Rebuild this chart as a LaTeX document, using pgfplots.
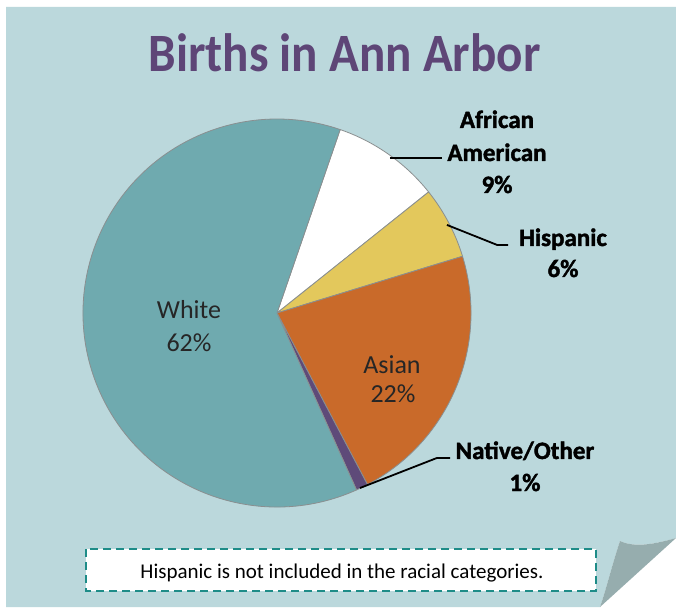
\documentclass[border=0pt]{standalone}
\usepackage{graphicx}
\usepackage{pgfplots}
\usepackage{pgfplotstable}
\pgfplotsset{compat=1.18}
\usepackage{fontspec}
\setmainfont{Carlito}
\newfontfamily\heavyfont[FakeBold=1.6]{Carlito Bold}
\definecolor{panel}{HTML}{BBD8DC}
\definecolor{cWH}{HTML}{6FAAAF}
\definecolor{cAA}{HTML}{FFFFFF}
\definecolor{cHI}{HTML}{E3C85C}
\definecolor{cAS}{HTML}{C96A2A}
\definecolor{cNA}{HTML}{5E4A79}
\definecolor{titlecol}{HTML}{5E4677}
\definecolor{pieedge}{HTML}{8A8F90}
\definecolor{curlcol}{HTML}{96ADAE}
\definecolor{dashcol}{HTML}{1E8C88}

\pgfplotstableread{
name value col
AfricanAmerican 9 cAA
Hispanic 6 cHI
Asian 22 cAS
NativeOther 1 cNA
White 62 cWH
}\piedata

\begin{document}
\begin{tikzpicture}[x=1pt,y=1pt]
\path[use as bounding box] (0,0) rectangle (676,610);
\fill[white] (0,0) rectangle (676,610);
% panel with page curl
\fill[panel] (6,603) -- (676,603) -- (676,72)
  .. controls (655,66) and (635,62) .. (620,69)
  .. controls (612,45) and (606,20) .. (600,3) -- (6,3) -- cycle;
\fill[curlcol] (620,69) .. controls (635,62) and (655,66) .. (676,72)
  -- (600,3) .. controls (606,20) and (612,45) .. (620,69) -- cycle;

\begin{axis}[
  at={(277pt,297pt)}, anchor=origin,
  scale only axis, width=388pt, height=388pt,
  xmin=-1, xmax=1, ymin=-1, ymax=1,
  hide axis, clip=false]
\pgfplotstablegetrowsof{\piedata}
\pgfmathtruncatemacro\N{\pgfplotsretval-1}
\xdef\angA{71}
\pgfplotsforeachungrouped \i in {0,...,\N}{%
  \pgfplotstablegetelem{\i}{value}\of\piedata \let\v\pgfplotsretval
  \pgfplotstablegetelem{\i}{col}\of\piedata \let\c\pgfplotsretval
  \pgfmathsetmacro\angB{\angA-3.6*\v}%
  \edef\temp{\noexpand\fill[\c, draw=pieedge, line width=0.8pt, line join=round]
    (axis cs:0,0) -- (axis cs:{cos(\angA)},{sin(\angA)})
    arc[start angle=\angA, end angle=\angB, radius=194pt] -- cycle;}%
  \temp
  \xdef\angA{\angB}%
}
% leader lines
\draw[black, line width=2.2pt] (axis cs:0.582,0.799) -- (axis cs:0.851,0.799);
\draw[black, line width=1.8pt] (axis cs:0.876,0.454) -- (axis cs:1.134,0.351) -- (axis cs:1.191,0.351);
\draw[black, line width=1.8pt] (axis cs:0.428,-0.902) -- (axis cs:0.825,-0.747) -- (axis cs:0.892,-0.747);
\end{axis}

% title
\node[anchor=base, text=titlecol, inner sep=0] at (344.5,538)
  {\scalebox{0.91}[1]{\fontsize{54}{60}\selectfont\bfseries Births in Ann Arbor}};

% labels
\begin{scope}[every node/.style={anchor=base, inner sep=0, font=\fontsize{25}{28}\heavyfont}]
\node at (497,482) {African};
\node at (497,449) {American};
\node at (497,417) {9\%};
\node at (563,364) {Hispanic};
\node at (563,333) {6\%};
\node at (525,151) {Native/Other};
\node at (525,119) {1\%};
\end{scope}
\begin{scope}[every node/.style={anchor=base, inner sep=0, text={black!85}, font=\fontsize{26}{28}\selectfont}]
\node at (189,291) {White};
\node at (189,258) {62\%};
\node at (392,236) {Asian};
\node at (393,207) {22\%};
\end{scope}

% note box
\draw[dashcol, line width=1.8pt, dash pattern=on 8pt off 5pt, fill=white] (86,61) rectangle (596,19);
\node[anchor=base, inner sep=0, font=\fontsize{21}{24}\selectfont] at (342,32)
  {Hispanic is not included in the racial categories.};
\end{tikzpicture}
\end{document}
